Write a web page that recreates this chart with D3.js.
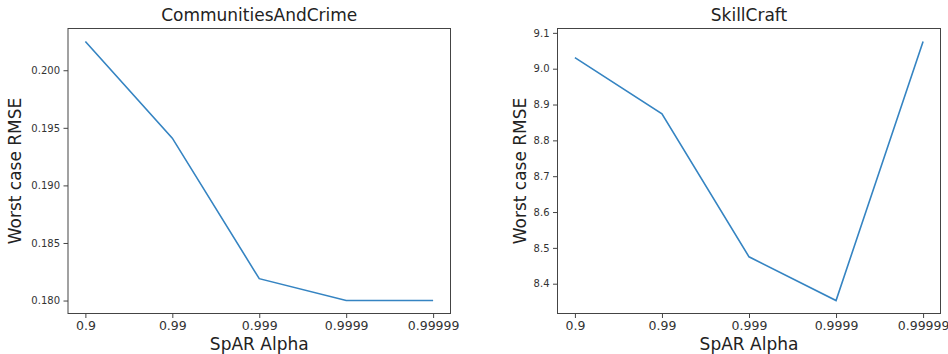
<!DOCTYPE html>
<html>
<head>
<meta charset="utf-8">
<script src="https://cdn.jsdelivr.net/npm/d3@7"></script>
<style>
  body { margin: 0; background: #fff; }
  svg { display: block; font-family: "DejaVu Sans", sans-serif; }
</style>
</head>
<body>
<div class="vis"></div>
<script>
const width = 948, height = 354;

// data
const alphas = ["0.9", "0.99", "0.999", "0.9999", "0.99999"];
const crimeRmse = [0.2025, 0.1941, 0.1819, 0.1800, 0.1800];
const skillRmse = [9.031, 8.874, 8.475, 8.353, 9.076];
const crimeTicks = [0.180, 0.185, 0.190, 0.195, 0.200];
const skillTicks = [8.4, 8.5, 8.6, 8.7, 8.8, 8.9, 9.0, 9.1];

let svg = d3.select(".vis")
    .append("svg")
    .attr("width", width)
    .attr("height", height)

function panel(opts) {
    let g = svg.append("g")
        .attr("transform", "translate(" + opts.left + " 28.5)")
    const w = opts.w, h = 285;

    const x = d3.scaleLinear()
        .domain([-0.2, alphas.length - 1 + 0.2])
        .range([0, w])

    let lo = d3.min(opts.values), hi = d3.max(opts.values), pad = (hi - lo) * 0.05;
    const y = d3.scaleLinear()
        .domain([lo - pad, hi + pad])
        .range([h, 0])

    // frame
    g.append("rect")
        .attr("width", w)
        .attr("height", h)
        .style("fill", "none")
        .style("stroke", "#444")
        .style("stroke-width", 1)

    let xAxis = g.append("g")
        .attr("transform", "translate(0 " + h + ")")
        .call(d3.axisBottom(x)
            .tickValues(d3.range(alphas.length))
            .tickFormat(i => alphas[i])
            .tickSize(4.5)
            .tickPadding(3.5))
    let yAxis = g.append("g")
        .call(d3.axisLeft(y)
            .tickValues(opts.ticks)
            .tickFormat(opts.fmt)
            .tickSize(4.5)
            .tickPadding(3.5))

    for (let ax of [xAxis, yAxis]) {
        ax.select(".domain").remove()
        ax.selectAll("line").style("stroke", "#444")
        ax.selectAll("text")
            .style("fill", "#333")
            .style("font-family", "DejaVu Sans, sans-serif")
    }
    xAxis.selectAll("text").style("font-size", "12.5px")
    yAxis.selectAll("text").style("font-size", "10px")

    const line = d3.line()
        .x((d, i) => x(i))
        .y(d => y(d))

    g.append("path")
        .datum(opts.values)
        .attr("d", line)
        .style("fill", "none")
        .style("stroke", "#3584c2")
        .style("stroke-width", 1.6)

    g.append("text")
        .attr("x", w / 2)
        .attr("y", -8)
        .text(opts.title)
        .style("font-size", "17px")
        .style("fill", "#222")
        .style("text-anchor", "middle")

    g.append("text")
        .attr("x", w / 2)
        .attr("y", 321.5)
        .text("SpAR Alpha")
        .style("font-size", "17px")
        .style("fill", "#222")
        .style("text-anchor", "middle")

    g.append("text")
        .attr("transform", "translate(" + opts.ylabX + " " + (h / 2) + ") rotate(-90)")
        .text("Worst case RMSE")
        .style("font-size", "17px")
        .style("fill", "#222")
        .style("text-anchor", "middle")
}

panel({left: 68, w: 382.5, values: crimeRmse, ticks: crimeTicks,
    fmt: d3.format(".3f"), title: "CommunitiesAndCrime", ylabX: -47})
panel({left: 557.5, w: 383, values: skillRmse, ticks: skillTicks,
    fmt: d3.format(".1f"), title: "SkillCraft", ylabX: -32})
</script>
</body>
</html>
